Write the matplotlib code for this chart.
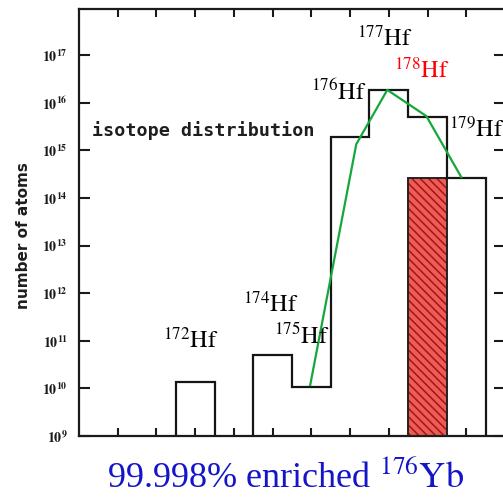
import matplotlib
matplotlib.use("Agg")
import matplotlib.pyplot as plt
import numpy as np

# isotope masses and number of atoms (log10)
masses_a = [172]
log_atoms_a = [10.14]
masses_b = [174, 175, 176, 177, 178, 179]
log_atoms_b = [10.70, 10.03, 15.28, 16.27, 15.70, 14.42]

# highlighted 178Hf bar
red_mass = 178
red_log_atoms = 14.42

# green calculated curve
curve_mass = [174.97, 176.16, 176.96, 177.97, 178.87]
curve_log_atoms = [10.07, 15.13, 16.27, 15.72, 14.44]

# isotope labels: (mass number, label x, label log y, colour)
labels = [
    (172, 171.17, 10.85, "black"),
    (174, 173.24, 11.60, "black"),
    (175, 174.04, 10.95, "black"),
    (176, 175.00, 16.06, "black"),
    (177, 176.18, 17.19, "black"),
    (178, 177.14, 16.52, "red"),
    (179, 178.56, 15.28, "black"),
]

decades = list(range(9, 18))

plt.rcParams["mathtext.fontset"] = "stix"
plt.rcParams["hatch.linewidth"] = 1.1

fig = plt.figure(figsize=(5.03, 4.97), dpi=100)
ax = fig.add_axes([79 / 503, 1 - 436 / 497, 426 / 503, 427 / 497])
ax.set_yscale("log")
ax.set_xlim(169, 180)
ax.set_ylim(1e9, 10 ** 17.97)
floor = 1e9

# red hatched bar first, outline on top
ax.bar([red_mass], [10 ** red_log_atoms], width=1, bottom=floor, color="#f25a55",
       edgecolor="#9a1a1a", hatch="\\\\\\\\", linewidth=0, zorder=2)
ax.bar([red_mass], [10 ** red_log_atoms], width=1, bottom=floor, fill=False,
       edgecolor="#222222", linewidth=1.4, zorder=3)

for m, v in ((masses_a, log_atoms_a), (masses_b, log_atoms_b)):
    edges = np.append(np.array(m) - 0.5, m[-1] + 0.5)
    ax.stairs(10 ** np.array(v), edges, baseline=floor, color="#151515",
              linewidth=1.6, zorder=3)

ax.plot(curve_mass, 10 ** np.array(curve_log_atoms), color="#14a83c",
        linewidth=1.6, zorder=4)

for mass, lx, ly, col in labels:
    ax.text(lx, 10 ** ly, r"$^{%d}\mathrm{Hf}$" % mass, color=col, fontsize=17.5,
            ha="left", va="baseline", zorder=5)

ax.text((92 - 79) / 426, 0.715, "isotope distribution", transform=ax.transAxes,
        family="DejaVu Sans Mono", fontweight="bold", fontsize=13.2, color="#1e1e1e",
        ha="left", va="center")

ax.set_xticks(range(170, 180))
ax.set_xticklabels([])
ax.set_yticks([10.0 ** d for d in decades])
ax.set_yticklabels([r"$\mathbf{10^{%d}}$" % d for d in decades])
ax.yaxis.set_minor_locator(matplotlib.ticker.NullLocator())
ax.tick_params(axis="x", direction="in", length=6, width=1.5, top=True, color="#1a1a1a")
ax.tick_params(axis="y", direction="in", length=8, width=1.5, right=True, pad=8,
               labelsize=10, color="#1a1a1a", labelcolor="#1a1a1a")
for s in ax.spines.values():
    s.set_linewidth(1.6)
    s.set_color("#1a1a1a")

fig.text(24 / 503, 1 - 236 / 497, "number of atoms", rotation=90, ha="center", va="center",
         fontsize=11, fontweight="bold", color="#1e1e1e")

fig.text(286 / 503, 1 - 487 / 497, r"99.998% enriched $^{176}\mathrm{Yb}$",
         family="Liberation Serif", fontsize=26, color="#1414c8", ha="center", va="baseline")

fig.savefig("out.png", dpi=100)
plt.close(fig)
